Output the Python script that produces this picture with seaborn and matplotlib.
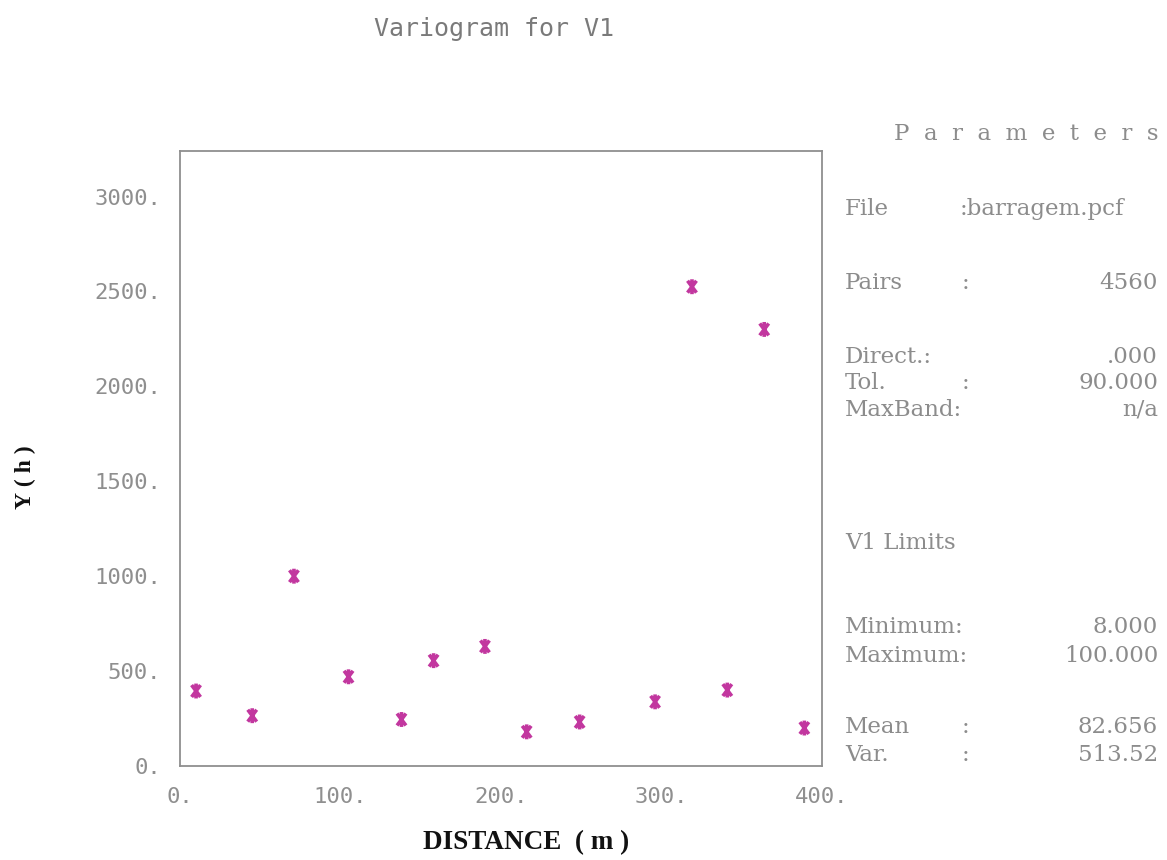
import matplotlib
matplotlib.use("Agg")
import matplotlib.pyplot as plt
from matplotlib.path import Path
import seaborn as sns
import pandas as pd

# ---- data ----
distance = [10, 45, 71, 105, 138, 158, 190, 216, 249, 296, 319, 341, 364, 389]
gamma = [395, 265, 1000, 470, 245, 555, 630, 180, 232, 338, 2525, 400, 2300, 200]
x_ticks = [0, 100, 200, 300, 400]
x_tick_labels = ["0.", "100.", "200.", "300.", "400."]
y_ticks = [0, 500, 1000, 1500, 2000, 2500, 3000]
y_tick_labels = ["0.", "500.", "1000.", "1500.", "2000.", "2500.", "3000."]

param_labels = ["Pairs", "Direct.:", "Tol.", "MaxBand:", "Minimum:", "Maximum:", "Mean", "Var."]
param_values = ["4560", ".000", "90.000", "n/a", "8.000", "100.000", "82.656", "513.52"]
file_label = "File"
file_value = ":barragem.pcf"

df = pd.DataFrame({"distance": distance, "gamma": gamma})

sns.set_style("white")
plt.rcParams["font.family"] = ["DejaVu Sans"]

fig = plt.figure(figsize=(11.67, 8.6), dpi=100)
ax = fig.add_axes([180 / 1167, 1 - 766 / 860, 642 / 1167, 615 / 860])

# asterisk-like marker: vertical bar plus a steep X
star = Path([(0, -1), (0, 1), (-0.6, -0.8), (0.6, 0.8), (-0.6, 0.8), (0.6, -0.8)],
            [Path.MOVETO, Path.LINETO, Path.MOVETO, Path.LINETO, Path.MOVETO, Path.LINETO])

sns.scatterplot(data=df, x="distance", y="gamma", ax=ax,
                marker=star, s=115, color="#c2379f", facecolor="none",
                edgecolor="#c2379f", linewidth=2.6, legend=False)

ax.set_xlim(0, 400)
ax.set_ylim(0, 3240)
ax.set_xticks(x_ticks)
ax.set_xticklabels(x_tick_labels)
ax.set_yticks(y_ticks)
ax.set_yticklabels(y_tick_labels)
ax.set_xlabel("")
ax.set_ylabel("")

gray = "#8f8f8f"
for sp in ax.spines.values():
    sp.set_color("#8f8f8f")
    sp.set_linewidth(1.3)

ax.tick_params(axis="x", direction="out", length=9, width=1.2, color="#777777",
               pad=6, labelsize=16, labelcolor=gray)
ax.tick_params(axis="y", direction="out", length=6.5, width=1.2, color="#777777",
               pad=7, labelsize=16, labelcolor=gray)
for lab in ax.get_xticklabels() + ax.get_yticklabels():
    lab.set_family("DejaVu Sans Mono")

# title
fig.text(494 / 1167, 1 - 29 / 860, "Variogram for V1", ha="center", va="center",
         family="DejaVu Sans Mono", fontsize=18, color="#7a7a7a")

# axis labels
fig.text(526 / 1167, 1 - 843 / 860, "DISTANCE  ( m )", ha="center", va="center",
         family="Liberation Serif", fontweight="bold", fontsize=19.5, color="#111111")
fig.text(25 / 1167, 1 - 477 / 860, "Υ ( h )", ha="center", va="center", rotation=90,
         family="Liberation Serif", fontweight="bold", fontsize=17, color="#111111")

# parameters panel
serif = "DejaVu Serif"
pc = "#8c8c8c"
fs = 16.5
xl = 845 / 1167
xc = 966 / 1167
xr = 1158 / 1167
fig.text(xr, 1 - 134 / 860, "  ".join("Parameters"), ha="right", va="center",
         family=serif, fontsize=fs, color=pc)
fig.text(xl, 1 - 209 / 860, file_label, ha="left", va="center",
         family=serif, fontsize=fs, color=pc)
fig.text(xc - 6 / 1167, 1 - 209 / 860, file_value, ha="left", va="center",
         family=serif, fontsize=fs, color=pc)
rows_y = [283, 357, 383, 410, 627, 656, 727, 755]
for lab, val, yy in zip(param_labels, param_values, rows_y):
    yf = 1 - yy / 860
    fig.text(xl, yf, lab, ha="left", va="center", family=serif, fontsize=fs, color=pc)
    if not lab.endswith(":"):
        fig.text(xc, yf, ":", ha="center", va="center", family=serif, fontsize=fs, color=pc)
    fig.text(xr, yf, val, ha="right", va="center", family=serif, fontsize=fs, color=pc)
fig.text(xl, 1 - 543 / 860, "V1 Limits", ha="left", va="center",
         family=serif, fontsize=fs, color=pc)

fig.savefig("out.png", dpi=100)
